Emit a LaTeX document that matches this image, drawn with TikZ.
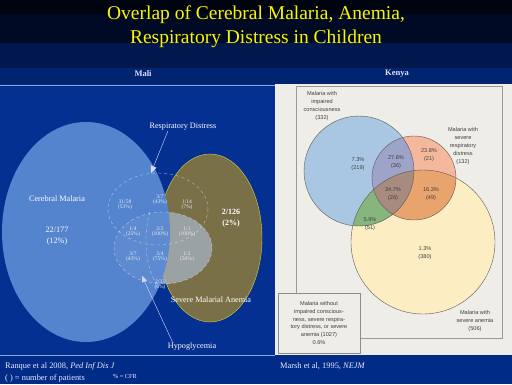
\documentclass[tikz,border=0pt]{standalone}
\usepackage{fontspec}
\setmainfont{Liberation Serif}
\newfontfamily\kenyafont{Liberation Sans}
\usetikzlibrary{arrows.meta,positioning,calc}
\definecolor{skytop}{RGB}{0,4,16}
\definecolor{skymid}{RGB}{0,10,36}
\definecolor{skylow}{RGB}{0,24,78}
\definecolor{headband}{RGB}{0,36,112}
\definecolor{navy}{RGB}{0,44,136}
\definecolor{panelblue}{RGB}{4,48,145}
\definecolor{cmblue}{RGB}{84,132,205}
\definecolor{olive}{RGB}{122,112,72}
\definecolor{paper}{RGB}{239,237,232}
\definecolor{kblue}{RGB}{169,198,226}
\definecolor{kred}{RGB}{245,184,156}
\definecolor{kyellow}{RGB}{252,237,194}
\definecolor{kpurple}{RGB}{158,163,200}
\definecolor{kbrown}{RGB}{168,138,126}
\definecolor{korange}{RGB}{233,164,110}
\definecolor{kgreen}{RGB}{134,181,126}
\definecolor{titleyellow}{RGB}{250,245,0}

\begin{document}
\begin{tikzpicture}[x=1pt,y=-1pt,
    cell/.style={text=white!85!cmblue,font=\fontsize{5.5}{8.5}\selectfont,align=center,inner sep=0pt},
    malilabel/.style={text=white,font=\fontsize{8.2}{10.5}\selectfont,align=center,inner sep=0pt},
    klabel/.style={text=black!75,font=\kenyafont\fontsize{5.6}{7.8}\selectfont,align=center,inner sep=0pt},
    footer/.style={text=white!92!blue,font=\fontsize{8.4}{11}\selectfont,anchor=west,inner sep=0pt},
    kcircle/.style={draw=black!65,line width=0.4pt},
    hypo/.style={white,opacity=0.55,dashed,line width=0.4pt}]
  \useasboundingbox (0,0) rectangle (512,384);
  % background bands
  \fill[navy] (0,0) rectangle (512,384);
  \fill[skytop] (0,0) rectangle (512,14);
  \fill[skymid] (0,14) rectangle (512,43);
  \fill[skylow] (0,43) rectangle (512,68);
  \fill[headband] (0,68) rectangle (512,84);
  \node[text=titleyellow,font=\fontsize{19.5}{24}\selectfont,align=center] (title) at (256,27)
    {Overlap of Cerebral Malaria, Anemia,\\Respiratory Distress in Children};
  \node[text=white!88!blue,font=\bfseries\fontsize{8.5}{10}\selectfont] (mali) at (143,74) {Mali};
  \node[text=white!88!blue,font=\bfseries\fontsize{8.5}{10}\selectfont] (kenya) at (397,74) {Kenya};

  % Mali panel
  \fill[panelblue] (0,85) rectangle (275,355);
  \draw[cmblue!70,line width=0.5pt] (0,85) -- (275,85);
  \draw[cmblue!70,line width=0.5pt] (0,355) -- (275,355);
  \fill[olive] (210,238) ellipse [x radius=52,y radius=84];
  \draw[yellow!70!olive,line width=0.4pt] (210,238) ellipse [x radius=52,y radius=84];
  \fill[cmblue!50!white,opacity=0.55] (163,248) ellipse [x radius=49,y radius=36];
  \fill[cmblue] (86,232) ellipse [x radius=84,y radius=110];
  \fill[white,opacity=0.06] (163,248) ellipse [x radius=49,y radius=36];
  \draw[hypo] (158,209) ellipse [x radius=50,y radius=36];
  \draw[hypo] (163,248) ellipse [x radius=49,y radius=36];
  \draw[hypo] (150,212) .. controls (143,235) and (145,265) .. (156,284);
  \node[malilabel] (cm) at (57,199) {Cerebral Malaria};
  \node[malilabel] (cmcfr) at (57,236) {22/177\\(12\%)};
  \node[malilabel,font=\bfseries\fontsize{8}{10.5}\selectfont] (smacfr) at (231,218) {2/126\\(2\%)};
  \node[malilabel] (sma) at (211,300) {Severe Malarial Anemia};
  \foreach \a/\b/\x/\y [count=\i] in {31/58/125/202,3/7/160/197,1/14/187/202,
      1/4/133/229,2/2/160/229,1/1/187/229,3/7/133/254,3/4/160/254,1/2/187/254,2/33/160/282}{
    \node[cell] (m\i) at (\x,\y) {\a/\b};
  }
  \node[cell,below=0.5pt of m1] {(53\%)};
  \node[cell,below=0.5pt of m2] {(43\%)};
  \node[cell,below=0.5pt of m3] {(7\%)};
  \node[cell,below=0.5pt of m4] {(25\%)};
  \node[cell,below=0.5pt of m5] {(100\%)};
  \node[cell,below=0.5pt of m6] {(100\%)};
  \node[cell,below=0.5pt of m7] {(43\%)};
  \node[cell,below=0.5pt of m8] {(75\%)};
  \node[cell,below=0.5pt of m9] {(50\%)};
  \node[cell,below=0.5pt of m10] {(6\%)};
  \node[malilabel] (rd) at (183,127) {Respiratory Distress};
  \node[malilabel] (hg) at (192,347) {Hypoglycemia};
  \coordinate (rdtip) at (151,173);
  \coordinate (hgtip) at (142,276);
  \draw[white!85!blue,line width=0.4pt,-{Triangle[width=6pt,length=7pt]}] ([xshift=-15pt]rd.south) -- (rdtip);
  \draw[white!85!blue,line width=0.4pt,-{Triangle[width=5pt,length=6pt]}] ([xshift=-19pt]hg.north) -- (hgtip);

  % Kenya panel
  \fill[paper] (275,84) rectangle (512,355);
  \draw[black!40,line width=0.5pt] (296,86) rectangle (502,338);
  \fill[kyellow] (423,242) circle (72);
  \fill[kblue] (359,171) circle (55);
  \fill[kred] (414,178) circle (42);
  \begin{scope}
    \clip (359,171) circle (55);
    \fill[kgreen] (423,242) circle (72);
    \fill[kpurple] (414,178) circle (42);
    \clip (414,178) circle (42);
    \fill[kbrown] (423,242) circle (72);
  \end{scope}
  \begin{scope}
    \clip (414,178) circle (42);
    \clip (423,242) circle (72);
    \fill[korange] (423,242) circle (72);
    \fill[kbrown] (359,171) circle (55);
  \end{scope}
  \draw[kcircle] (423,242) circle (72);
  \draw[kcircle] (359,171) circle (55);
  \draw[kcircle] (414,178) circle (42);
  \node[klabel] (ic) at (322,106) {Malaria with\\impaired\\consciousness\\(332)};
  \node[klabel] (srd) at (463,146) {Malaria with\\severe\\respiratory\\distress\\(132)};
  \node[klabel] (sa) at (475,321) {Malaria with\\severe anemia\\(506)};
  \foreach \p/\n/\x/\y [count=\i] in {7.3/219/358/164,27.8/36/396/162,23.8/21/429/155,
      34.7/26/393/194,16.3/49/431/194,5.9/51/370/224,1.3/380/425/253}{
    \node[klabel] (k\i) at (\x,\y) {\p\%\\(\n)};
  }
  \node[klabel,draw=black!45,fill=paper,line width=0.5pt,minimum width=82pt,minimum height=60pt] (none) at (319,323)
    {Malaria without\\impaired conscious-\\ness, severe respira-\\tory distress, or severe\\anemia (1027)\\0.6\%};

  % footer
  \node[footer] (ranque) at (5,366) {Ranque et al 2008, \textit{Ped Inf Dis J}};
  \node[footer] (npat) at (5,378) {( ) = number of patients};
  \node[footer,font=\fontsize{6.2}{8}\selectfont] (cfr) at (113,376) {\% = CFR};
  \node[footer] (marsh) at (280,366) {Marsh et al, 1995, \textit{NEJM}};
\end{tikzpicture}
\end{document}
